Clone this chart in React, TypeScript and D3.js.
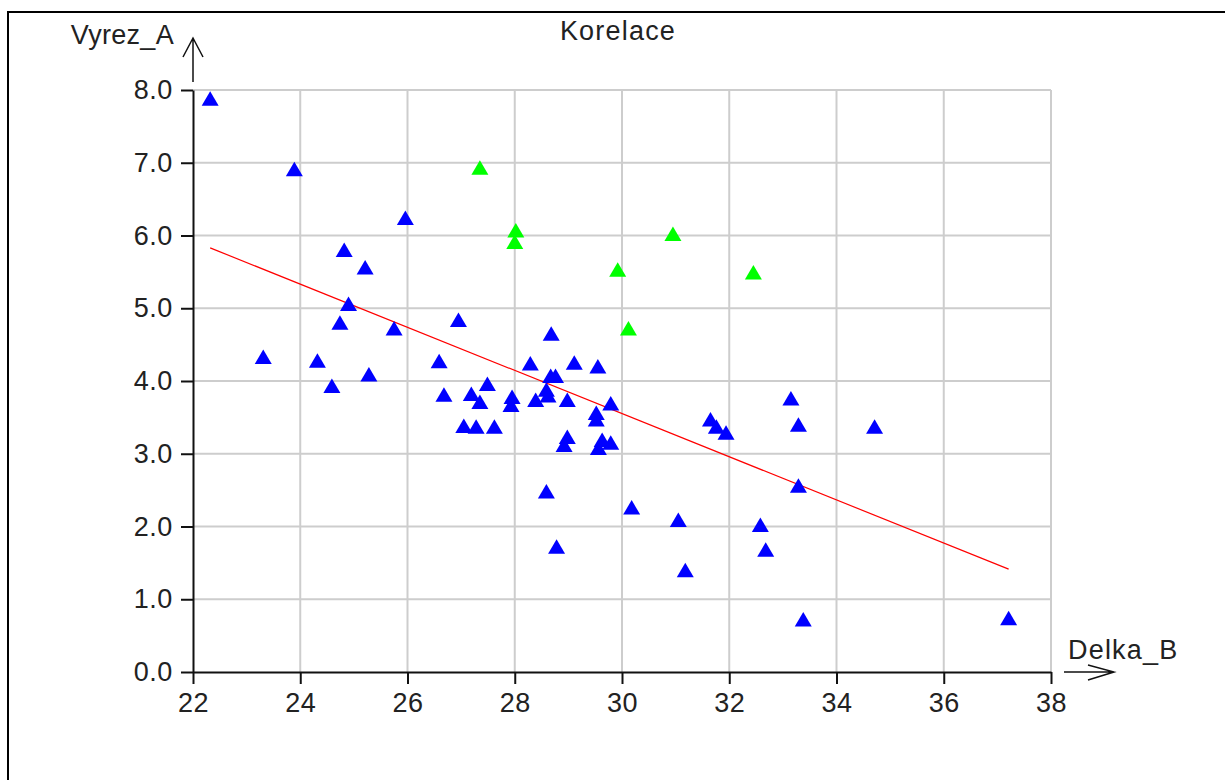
import React, { useEffect, useRef } from 'react'
import * as d3 from 'd3'

// blue points (Delka_B, Vyrez_A)
const blueX = [22.32, 23.89, 25.96, 24.82, 25.21, 24.90, 24.74, 25.75, 23.31, 24.32, 24.59, 25.28,
  26.95, 26.59, 26.68, 27.05, 27.28, 27.19, 27.35, 27.62, 27.49, 27.95, 27.93, 28.29, 28.39,
  28.68, 28.67, 28.76, 28.59, 28.62, 28.98, 29.11, 29.55, 29.79, 29.52, 29.52, 28.98, 28.92,
  29.63, 29.56, 29.79, 28.59, 28.78, 30.18, 31.05, 31.18, 31.65, 31.76, 31.94, 33.15, 33.29,
  34.71, 33.29, 32.58, 32.68, 33.38, 37.21]
const blueY = [7.88, 6.91, 6.24, 5.80, 5.56, 5.06, 4.80, 4.72, 4.33, 4.28, 3.93, 4.09,
  4.84, 4.27, 3.81, 3.38, 3.37, 3.82, 3.71, 3.37, 3.96, 3.78, 3.67, 4.24, 3.74,
  4.65, 4.07, 4.07, 3.88, 3.80, 3.74, 4.25, 4.20, 3.69, 3.56, 3.47, 3.23, 3.12,
  3.19, 3.08, 3.15, 2.48, 1.72, 2.26, 2.09, 1.40, 3.47, 3.37, 3.29, 3.76, 3.40,
  3.37, 2.56, 2.02, 1.68, 0.72, 0.74]

// green points
const greenX = [27.35, 28.02, 28.00, 30.95, 29.92, 32.45, 30.12]
const greenY = [6.93, 6.07, 5.91, 6.02, 5.53, 5.49, 4.72]

const xTicks = [22, 24, 26, 28, 30, 32, 34, 36, 38]
const yTicks = [0, 1, 2, 3, 4, 5, 6, 7, 8]

// regression line: intercept, slope
const fit = [12.45, -0.2966]

const title = 'Korelace'
const xName = 'Delka_B'
const yName = 'Vyrez_A'

const FONT = '"Liberation Sans", Arial, sans-serif'

export default function App() {
  const ref = useRef<SVGSVGElement>(null)

  useEffect(() => {
    const svg = d3.select(ref.current)
    svg.selectAll('*').remove()

    const x = d3.scaleLinear().domain([22, 38]).range([193, 1051])
    const y = d3.scaleLinear().domain([0, 8]).range([672, 90])

    // frame
    svg.append('path')
      .attr('d', 'M8,780 L8,12 L1225,12')
      .attr('fill', 'none')
      .attr('stroke', '#000')
      .attr('stroke-width', 2)

    // grid
    const grid = svg.append('g').attr('stroke', '#cdcdcd').attr('stroke-width', 2)
    grid.selectAll('line.v').data(xTicks.slice(1)).enter().append('line')
      .attr('x1', d => x(d)).attr('x2', d => x(d))
      .attr('y1', y(0)).attr('y2', y(8))
    grid.selectAll('line.h').data(yTicks.slice(1)).enter().append('line')
      .attr('x1', x(22)).attr('x2', x(38))
      .attr('y1', d => y(d)).attr('y2', d => y(d))

    // axes
    const xAxis = d3.axisBottom(x).tickValues(xTicks).tickFormat(d3.format('d'))
      .tickSize(12).tickSizeOuter(0).tickPadding(9)
    const yAxis = d3.axisLeft(y).tickValues(yTicks).tickFormat(d3.format('.1f'))
      .tickSize(12).tickSizeOuter(0).tickPadding(8)

    const gx = svg.append('g').attr('transform', `translate(0,${y(0)})`).call(xAxis)
    const gy = svg.append('g').attr('transform', `translate(${x(22)},0)`).call(yAxis)
    for (const g of [gx, gy]) {
      g.attr('font-family', FONT).attr('font-size', 27)
      g.selectAll('path, line').attr('stroke', '#111').attr('stroke-width', 2)
      g.selectAll('text').attr('fill', '#222').attr('letter-spacing', 0.6)
    }

    // axis arrows
    const arrows = svg.append('g').attr('stroke', '#111').attr('stroke-width', 1.5).attr('fill', 'none')
    arrows.append('path').attr('d', `M${x(22)},${y(8) - 8} L${x(22)},38 M${x(22) - 10},57 L${x(22)},38 L${x(22) + 10},57`)
    arrows.append('path').attr('d', `M${x(38) + 13},${y(0)} L1114,${y(0)} M1088,${y(0) - 7} L1114,${y(0)} L1088,${y(0) + 8}`)

    // regression line
    const all = blueX.concat(greenX)
    const x0 = d3.min(all) as number
    const x1 = d3.max(all) as number
    const line = d3.line<number>().x(d => x(d)).y(d => y(fit[0] + fit[1] * d))
    svg.append('path')
      .datum([x0, x1])
      .attr('d', line)
      .attr('fill', 'none')
      .attr('stroke', '#ff0000')
      .attr('stroke-width', 1.2)

    // markers
    const tri = (cx: number, cy: number) => `M${cx},${cy - 7.5} L${cx + 8.5},${cy + 7} L${cx - 8.5},${cy + 7} Z`
    svg.append('g').selectAll('path').data(blueX.map((v, i) => [v, blueY[i]])).enter().append('path')
      .attr('d', d => tri(x(d[0]), y(d[1])))
      .attr('fill', '#0000ff')
    svg.append('g').selectAll('path').data(greenX.map((v, i) => [v, greenY[i]])).enter().append('path')
      .attr('d', d => tri(x(d[0]), y(d[1])))
      .attr('fill', '#00ff00')

    // labels
    const txt = svg.append('g').attr('font-family', FONT).attr('font-size', 27).attr('fill', '#222')
    txt.append('text').attr('x', 618).attr('y', 40).attr('text-anchor', 'middle')
      .attr('letter-spacing', 1.2).text(title)
    txt.append('text').attr('x', 174).attr('y', 44).attr('text-anchor', 'end')
      .attr('letter-spacing', 0.3).text(yName)
    txt.append('text').attr('x', 1068).attr('y', 659)
      .attr('letter-spacing', 1.2).text(xName)
  }, [])

  return (
    <div style={{ position: 'absolute', left: 0, top: 0 }}>
      <svg ref={ref} width={1225} height={780} style={{ display: 'block', background: '#fff' }} />
    </div>
  )
}
